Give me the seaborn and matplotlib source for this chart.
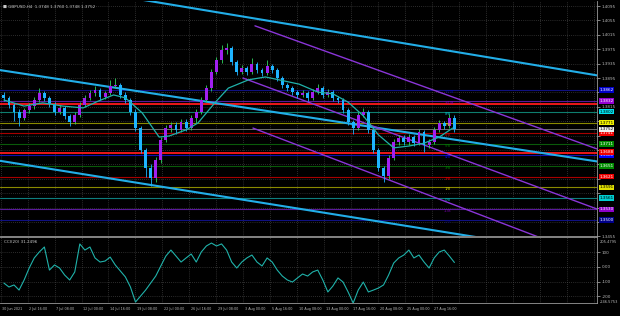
import matplotlib
matplotlib.use("Agg")
import matplotlib.pyplot as plt
import matplotlib.transforms as mtransforms
import numpy as np
import pandas as pd
import seaborn as sns

# ------------------------------------------------------------------ data
TITLE = "\u25a0 GBPUSD,H4  1.3748 1.3760 1.3748 1.3752"
CCI_TITLE = "CCI(20) 31.2496"

first_open = 1.3848
close = [1.3840, 1.3820, 1.3801, 1.3784, 1.3806, 1.3817, 1.3834, 1.3853, 1.3840, 1.3823,
         1.3801, 1.3812, 1.3790, 1.3773, 1.3792, 1.3820, 1.3840, 1.3853, 1.3862, 1.3842,
         1.3853, 1.3873, 1.3876, 1.3848, 1.3834, 1.3801, 1.3756, 1.3695, 1.3645, 1.3617,
         1.3667, 1.3723, 1.3756, 1.3765, 1.3751, 1.3773, 1.3756, 1.3784, 1.3801, 1.3834,
         1.3867, 1.3912, 1.3945, 1.3973, 1.3979, 1.3940, 1.3912, 1.3923, 1.3912, 1.3934,
         1.3917, 1.3909, 1.3929, 1.3917, 1.3895, 1.3876, 1.3867, 1.3856, 1.3848, 1.3853,
         1.3840, 1.3856, 1.3867, 1.3848, 1.3856, 1.3840, 1.3834, 1.3806, 1.3773, 1.3756,
         1.3792, 1.3801, 1.3751, 1.3695, 1.3645, 1.3623, 1.3673, 1.3717, 1.3728, 1.3717,
         1.3731, 1.3714, 1.3745, 1.3709, 1.3717, 1.3751, 1.3770, 1.3762, 1.3784, 1.3752]
high = [1.3856, 1.3846, 1.3826, 1.3808, 1.3812, 1.3825, 1.3842, 1.3867, 1.3860, 1.3846,
        1.3829, 1.3820, 1.3818, 1.3796, 1.3800, 1.3828, 1.3848, 1.3861, 1.3873, 1.3868,
        1.3860, 1.3890, 1.3895, 1.3882, 1.3856, 1.3840, 1.3808, 1.3762, 1.3701, 1.3655,
        1.3675, 1.3731, 1.3764, 1.3773, 1.3772, 1.3782, 1.3780, 1.3792, 1.3809, 1.3842,
        1.3875, 1.3920, 1.3953, 1.3987, 1.3992, 1.3985, 1.3946, 1.3931, 1.3929, 1.3951,
        1.3940, 1.3923, 1.3945, 1.3935, 1.3923, 1.3901, 1.3882, 1.3873, 1.3862, 1.3861,
        1.3859, 1.3864, 1.3878, 1.3873, 1.3864, 1.3862, 1.3846, 1.3840, 1.3812, 1.3779,
        1.3800, 1.3812, 1.3807, 1.3757, 1.3701, 1.3651, 1.3681, 1.3725, 1.3738, 1.3736,
        1.3740, 1.3737, 1.3753, 1.3751, 1.3725, 1.3759, 1.3778, 1.3776, 1.3796, 1.3792]
low = [1.3832, 1.3812, 1.3775, 1.3762, 1.3778, 1.3798, 1.3810, 1.3828, 1.3832, 1.3815,
       1.3793, 1.3795, 1.3782, 1.3762, 1.3767, 1.3786, 1.3814, 1.3834, 1.3846, 1.3835,
       1.3836, 1.3848, 1.3866, 1.3840, 1.3826, 1.3792, 1.3748, 1.3686, 1.3620, 1.3595,
       1.3606, 1.3660, 1.3716, 1.3745, 1.3740, 1.3745, 1.3748, 1.3750, 1.3770, 1.3795,
       1.3828, 1.3860, 1.3905, 1.3938, 1.3962, 1.3932, 1.3903, 1.3905, 1.3904, 1.3906,
       1.3909, 1.3900, 1.3903, 1.3909, 1.3887, 1.3868, 1.3859, 1.3848, 1.3840, 1.3841,
       1.3832, 1.3834, 1.3850, 1.3840, 1.3842, 1.3832, 1.3826, 1.3798, 1.3765, 1.3739,
       1.3750, 1.3786, 1.3743, 1.3687, 1.3637, 1.3606, 1.3615, 1.3667, 1.3709, 1.3709,
       1.3710, 1.3706, 1.3708, 1.3689, 1.3700, 1.3711, 1.3745, 1.3754, 1.3756, 1.3745]

ma_bar = [2, 14, 25, 37, 49, 58, 67, 74, 84, 94, 100, 110, 117, 127, 135, 147, 157,
          165, 177, 188, 197, 206, 215, 224, 233, 242, 251, 260, 268]
ma_value = [1.3834, 1.3817, 1.3826, 1.3817, 1.3812, 1.3831, 1.3848, 1.3840, 1.3798,
            1.3731, 1.3734, 1.3751, 1.3770, 1.3826, 1.3867, 1.3890, 1.3898, 1.3890,
            1.3878, 1.3856, 1.3851, 1.3828, 1.3790, 1.3737, 1.3701, 1.3706, 1.3714,
            1.3731, 1.3756]

cci_value = [-110, -137, -123, -158, -89, -7, 62, 103, 137, -21,
             14, -7, -55, -89, -34, 158, 116, 137, 62, 34,
             41, 68, 14, -27, -68, -137, -240, -199, -158, -110,
             -62, 7, 75, 116, 75, 34, 62, 89, 34, 103,
             144, 164, 144, 158, 116, 34, -7, 34, 62, 82,
             34, 7, 62, 34, -21, -62, -89, -103, -75, -48,
             -62, -34, -21, -89, -171, -130, -75, -103, -171, -247,
             -158, -103, -171, -158, -144, -123, -55, 27, 62, 82,
             116, 62, 82, 34, -7, 62, 103, 116, 75, 31]

date_labels = ["30 Jun 2021", "2 Jul 16:00", "7 Jul 08:00", "12 Jul 00:00", "14 Jul 16:00",
               "19 Jul 08:00", "22 Jul 00:00", "26 Jul 16:00", "29 Jul 08:00", "3 Aug 00:00",
               "5 Aug 16:00", "10 Aug 08:00", "13 Aug 00:00", "17 Aug 16:00", "20 Aug 08:00",
               "25 Aug 00:00", "27 Aug 16:00"]

price_ticks = [1.4095, 1.4055, 1.4015, 1.3975, 1.3935, 1.3895, 1.3855, 1.3815, 1.3775,
               1.3735, 1.3695, 1.3655, 1.3615, 1.3575, 1.3535, 1.3495, 1.3455]
# tick labels that are not hidden behind the coloured level boxes
price_tick_labels = ["1.4095", "1.4055", "1.4015", "1.3975", "1.3935", "1.3895", "", "1.3815",
                     "", "", "", "", "", "", "", "", "1.3455"]
cci_ticks = [100, 0, -100, -200]
cci_tick_labels = ["100", "0.00", "-100", "-200"]
cci_scale_labels = ["205.4795", "-246.5753"]

murrey_names = ["+2/8", "+1/8", "8/8", "7/8", "6/8", "5/8", "4/8", "3/8", "2/8",
                "1/8", "0/8", "-1/8", "-2/8"]
murrey_prices = [1.3862, 1.3832, 1.3802, 1.3771, 1.3741, 1.3711, 1.3681, 1.3651,
                 1.3621, 1.3591, 1.3561, 1.3530, 1.3500]
red_levels = [1.3823, 1.3688]
bid_price = 1.3752

# trend lines: (bar0, price0, bar1, price1)
cyan_lines = [(84.4, 1.4112, 355.3, 1.3901),
              (-0.3, 1.3917, 355.3, 1.3662),
              (-0.3, 1.3665, 355.3, 1.3398)]
purple_lines = [(150.8, 1.4040, 355.3, 1.3695),
                (143.7, 1.3895, 355.3, 1.3528),
                (149.6, 1.3756, 355.3, 1.3388)]

# ------------------------------------------------------------------ styles
BG = "black"
GRID = "#555555"
TXT = "#b8b8b8"
BULL = "#a020f0"
BEAR = "#1eb4ff"
WICK_UP = "#2fd45f"
WICK_DN = "#1eb4ff"
CYAN = "#22aee8"
PURPLE = "#8a35d8"
TEAL = "#20b2aa"
murrey_line_colors = ["#101080", "#5a1a9a", "#0e7e6e", "#8a8a00", "#a80000", "#0a5a0a",
                      "#1010b0", "#0a5a0a", "#a80000", "#8a8a00", "#0e7e7e", "#5a1a9a",
                      "#101080"]
murrey_box_colors = ["#0000c8", "#9400d3", "#00e0ee", "#f0f000", "#ee0000", "#008a00",
                     "#0000ff", "#008a00", "#ee0000", "#e0e000", "#00ced1", "#8b00c8",
                     "#00008b"]
murrey_text_colors = ["white", "white", "black", "black", "white", "white", "white",
                      "white", "white", "black", "black", "white", "white"]

sns.set_style("dark", {"axes.facecolor": BG, "figure.facecolor": BG,
                       "axes.edgecolor": "#9a9a9a", "grid.color": GRID})
plt.rcParams["font.family"] = ["DejaVu Sans"]

W, H = 620, 316
fig = plt.figure(figsize=(W / 100, H / 100), dpi=100, facecolor=BG)
ax = fig.add_axes([0, 1 - 236.4 / H, 597 / W, 235.4 / H])
ax2 = fig.add_axes([0, 1 - 303 / H, 597 / W, 66 / H])

XMIN, XMAX = -0.3, 353.5
grid_bars = [16 * k for k in range(23)]

for a in (ax, ax2):
    a.set_facecolor(BG)
    a.set_xlim(XMIN, XMAX)
    for b in grid_bars:
        a.axvline(b, color=GRID, lw=0.5, ls=(0, (1, 2)), zorder=0)
    for s in ("left", "top"):
        a.spines[s].set_visible(False)
    for s in ("right", "bottom"):
        a.spines[s].set_color("#9a9a9a")
        a.spines[s].set_linewidth(0.6)
ax2.spines["top"].set_visible(True)
ax2.spines["top"].set_color("#9a9a9a")
ax2.spines["top"].set_linewidth(0.6)

# ---------------- main price panel
ax.set_ylim(1.3455, 1.4109)
for t in price_ticks:
    ax.axhline(t, color=GRID, lw=0.5, ls=(0, (1, 2)), zorder=0)

for p, c in zip(murrey_prices, murrey_line_colors):
    ax.axhline(p, color=c, lw=0.8, zorder=1)
for p in red_levels:
    ax.axhline(p, color="#ff1a1a", lw=1.3, zorder=2)
ax.axhline(bid_price, color="#808080", lw=0.6, zorder=1)

for (x0, y0, x1, y1) in cyan_lines:
    ax.plot([x0, x1], [y0, y1], color=CYAN, lw=1.5, zorder=3)
for (x0, y0, x1, y1) in purple_lines:
    ax.plot([x0, x1], [y0, y1], color=PURPLE, lw=1.0, zorder=3)

opens = [first_open] + close[:-1]
df = pd.DataFrame({"open": opens, "close": close, "high": high, "low": low})
df["bar"] = [3 * j + 2 for j in range(len(df))]
df["up"] = df["close"] >= df["open"]
ax.vlines(df["bar"], df["low"], df["high"],
          colors=[WICK_UP if u else WICK_DN for u in df["up"]], lw=0.6, zorder=4)
body_h = (df["close"] - df["open"]).abs().clip(lower=0.00012)
ax.bar(df["bar"], body_h, bottom=df[["open", "close"]].min(axis=1), width=1.7,
       color=[BULL if u else BEAR for u in df["up"]], lw=0, zorder=5)

sns.lineplot(x=ma_bar, y=ma_value, ax=ax, color=TEAL, lw=0.9, zorder=6)

for name, p, c in zip(murrey_names, murrey_prices, murrey_box_colors):
    ax.text(263, p, name, color=c, fontsize=2.8, ha="left", va="top", alpha=0.85, zorder=7)

ax.yaxis.tick_right()
ax.set_yticks(price_ticks)
ax.set_yticklabels(price_tick_labels)
ax.tick_params(axis="y", colors=TXT, labelsize=3.0, length=2, width=0.5, pad=1.5)
ax.tick_params(axis="x", bottom=False, labelbottom=False)
ax.set_xlabel("")
ax.set_ylabel("")

trans = mtransforms.blended_transform_factory(ax.transAxes, ax.transData)
BOX = dict(boxstyle="square,pad=0.2", ec="none")
for p, bc, tc in zip(murrey_prices, murrey_box_colors, murrey_text_colors):
    ax.text(1.004, p, f"{p:.4f}", transform=trans, fontsize=3.0, color=tc, ha="left",
            va="center", clip_on=False, zorder=10, bbox=dict(BOX, fc=bc))
ax.text(1.004, red_levels[1] + 0.0002, f"{red_levels[1]:.4f}", transform=trans,
        fontsize=3.0, color="white", ha="left", va="center", clip_on=False, zorder=10,
        bbox=dict(BOX, fc="#ee0000"))
ax.text(1.004, bid_price, f"{bid_price:.4f}", transform=trans, fontsize=3.0,
        color="black", ha="left", va="center", clip_on=False, zorder=11,
        bbox=dict(BOX, fc="#f0f0f0"))

ax.text(0.005, 0.985, TITLE, transform=ax.transAxes, fontsize=3.0, color="#c8c8c8",
        ha="left", va="top")

# ---------------- CCI panel
ax2.set_ylim(-246.6, 205.5)
for t in cci_ticks:
    ax2.axhline(t, color=GRID, lw=0.5, ls=(0, (1, 2)), zorder=0)
cci_bar = [3 * j + 2 for j in range(len(cci_value))]
sns.lineplot(x=cci_bar, y=cci_value, ax=ax2, color=TEAL, lw=0.8, zorder=5)
ax2.set_xlabel("")
ax2.set_ylabel("")
ax2.yaxis.tick_right()
ax2.set_yticks(cci_ticks)
ax2.set_yticklabels(cci_tick_labels)
ax2.tick_params(axis="y", colors=TXT, labelsize=3.0, length=2, width=0.5, pad=1.5)
ax2.text(1.005, 0.96, cci_scale_labels[0], transform=ax2.transAxes, fontsize=2.6,
         color=TXT, ha="left", va="top", clip_on=False)
ax2.text(1.005, 0.02, cci_scale_labels[1], transform=ax2.transAxes, fontsize=2.6,
         color=TXT, ha="left", va="center", clip_on=False)
ax2.text(0.006, 0.95, CCI_TITLE, transform=ax2.transAxes, fontsize=3.0, color="#c8c8c8",
         ha="left", va="top")

ax2.set_xticks(grid_bars)
ax2.set_xticklabels(date_labels + [""] * (len(grid_bars) - len(date_labels)))
ax2.tick_params(axis="x", colors=TXT, labelsize=2.4, length=2, width=0.5, pad=1.2)
offset = mtransforms.ScaledTranslation(1.5 / 100, 0, fig.dpi_scale_trans)
for lab in ax2.get_xticklabels():
    lab.set_horizontalalignment("left")
    lab.set_transform(lab.get_transform() + offset)

fig.savefig("out.png", dpi=100, facecolor=BG)
